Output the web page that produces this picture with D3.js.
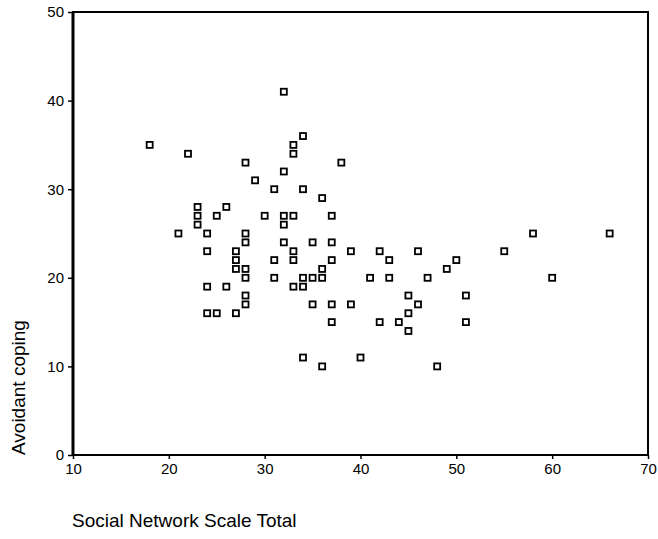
<!DOCTYPE html>
<html><head><meta charset="utf-8">
<script src="https://cdn.jsdelivr.net/npm/d3@7"></script>
<style>body{margin:0;background:#fff}svg{display:block}</style>
</head><body>
<svg id="c" width="658" height="539"></svg>
<script>
const socialNetwork = [18,22,28,29,23,26,32,34,33,33,38,32,31,34,36,
  23,25,23,21,24,28,28,24,27,27,27,28,28,24,26,28,28,24,25,27,
  30,32,33,37,32,32,35,37,33,39,42,31,33,37,36,31,34,35,36,41,33,34,35,37,39,37,42,34,40,36,
  46,55,43,50,49,43,47,45,51,46,45,44,51,45,48,58,66,60];
const avoidantCoping = [35,34,33,31,28,28,41,36,35,34,33,32,30,30,29,
  27,27,26,25,25,25,24,23,23,22,21,21,20,19,19,18,17,16,16,16,
  27,27,27,27,26,24,24,24,23,23,23,22,22,22,21,20,20,20,20,20,19,19,17,17,17,15,15,11,11,10,
  23,23,22,22,21,20,20,18,18,17,16,15,15,14,10,25,25,20];
const xTicks = [10,20,30,40,50,60,70];
const yTicks = [0,10,20,30,40,50];
const xTitle = "Social Network Scale Total";
const yTitle = "Avoidant coping";

const svg = d3.select("#c");
const L = 73, R = 648, T = 12, B = 455;
const x = d3.scaleLinear().domain([10,70]).range([L,R]);
const y = d3.scaleLinear().domain([0,50]).range([B,T]);
const font = "'Liberation Sans', Arial, sans-serif";

// frame
svg.append("rect").attr("x",L).attr("y",T).attr("width",R-L).attr("height",B-T)
  .attr("fill","none").attr("stroke","#000").attr("stroke-width",2);
svg.append("line").attr("x1",L).attr("x2",L).attr("y1",T).attr("y2",B)
  .attr("stroke","#000").attr("stroke-width",3);

const xa = svg.append("g").attr("transform",`translate(0,${B})`)
  .call(d3.axisBottom(x).tickValues(xTicks).tickSize(4).tickPadding(4).tickFormat(d3.format("d")));
const ya = svg.append("g").attr("transform",`translate(${L},0)`)
  .call(d3.axisLeft(y).tickValues(yTicks).tickSize(5).tickPadding(4).tickFormat(d3.format("d")));
[xa,ya].forEach(g=>{
  g.select(".domain").remove();
  g.selectAll("line").attr("stroke","#000").attr("stroke-width",1.5);
  g.selectAll("text").attr("font-family",font).attr("font-size",15).attr("fill","#000");
});

svg.append("g").selectAll("rect").data(socialNetwork.map((d,i)=>[d,avoidantCoping[i]]))
  .join("rect")
  .attr("x",d=>x(d[0])-3).attr("y",d=>y(d[1])-3)
  .attr("width",6).attr("height",6)
  .attr("fill","#fff").attr("stroke","#000").attr("stroke-width",1.8);

svg.append("text").attr("x",72).attr("y",527).attr("font-family",font).attr("font-size",19)
  .attr("fill","#000").text(xTitle);
svg.append("text").attr("transform","translate(25,455) rotate(-90)").attr("font-family",font)
  .attr("font-size",19).attr("fill","#000").text(yTitle);
</script>
</body></html>
